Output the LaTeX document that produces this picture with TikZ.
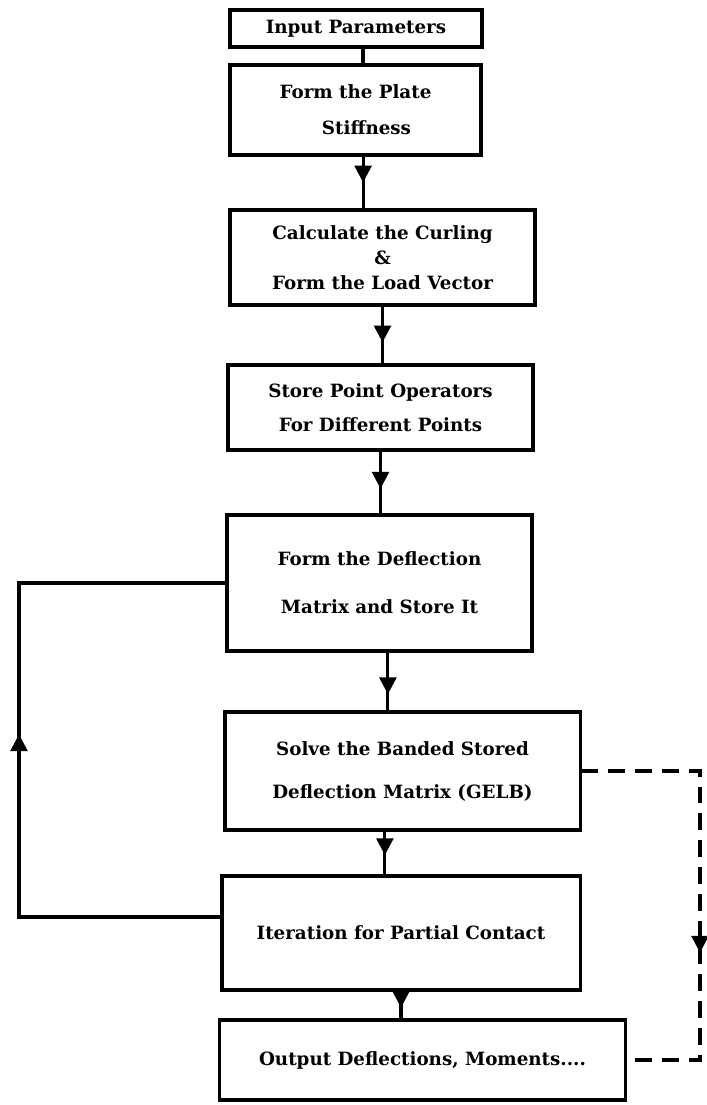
\documentclass[tikz,border=0pt]{standalone}
\usepackage{fontspec}
\setmainfont{DejaVu Serif}
\usetikzlibrary{arrows.meta,decorations.markings}

\tikzset{
  box/.style={draw, line width=2.2pt, inner sep=0pt, align=center,
    font=\bfseries\fontsize{13}{16}\selectfont},
  flowline/.style={line width=2.2pt},
  midarrow/.style={flowline, postaction={decorate},
    decoration={markings, mark=at position #1 with {\arrow{Triangle[width=0.42cm,length=0.42cm]}}}},
}

\begin{document}
\begin{tikzpicture}[x=0.025cm, y=-0.025cm]
		\useasboundingbox (0,0) rectangle (706,1105);
		
		%%%%% BOXES %%%%%
		\node[box, minimum width=6.3cm, minimum height=0.925cm] (in) at (356,28.5) {Input Parameters};
		\node[box, minimum width=6.275cm, minimum height=2.25cm] (plate) at (355.5,110) {Form the Plate\\[9.6pt]\hspace*{1.2em}Stiffness};
		\node[box, minimum width=7.625cm, minimum height=2.375cm] (curl) at (382.5,257.5) {Calculate the Curling\\[1.8pt]\&\\[1.8pt]Form the Load Vector};
		\node[box, minimum width=7.625cm, minimum height=2.125cm] (store) at (380.5,407.5) {Store Point Operators\\[8pt]For Different Points};
		\node[box, minimum width=7.625cm, minimum height=3.4cm] (defl) at (379.5,583) {Form the Deflection\\[18pt]Matrix and Store It};
		\node[box, minimum width=8.875cm, minimum height=2.95cm] (solve) at (402.5,771) {Solve the Banded Stored\\[14.6pt]Deflection Matrix (GELB)};
		\node[box, minimum width=8.95cm, minimum height=2.85cm] (iter) at (401,933) {Iteration for Partial Contact};
		\node[box, minimum width=10.125cm, minimum height=2cm] (out) at (422.5,1060) {Output Deflections, Moments....};
		
		\coordinate (inS) at ([xshift=0.175cm]in.south);
		\coordinate (plateS) at ([xshift=0.19cm]plate.south);
		\coordinate (deflS) at ([xshift=0.21cm]defl.south);
		\coordinate (solveS) at ([xshift=-0.44cm]solve.south);
		\coordinate (loopL) at (19,0);
		\coordinate (loopR) at (700,0);
		
		%%%%% FLOW %%%%%
		\draw[flowline] (inS) -- (inS |- plate.north);
		\draw[midarrow=0.5] (plateS) -- (plateS |- curl.north);
		\draw[midarrow=0.63] (curl.south) -- (curl.south |- store.north);
		\draw[midarrow=0.6] (store.south) -- (store.south |- defl.north);
		\draw[midarrow=0.72] (deflS) -- (deflS |- solve.north);
		\draw[midarrow=0.55] (solveS) -- (solveS |- iter.north);
		\draw[midarrow=0.6] (iter.south) -- (iter.south |- out.north);
		
		% iteration loop
		\draw[midarrow=9.6cm] ([yshift=0.4cm]iter.west) -| (loopL |- defl.west) -- (defl.west);
		
		% direct path
		\draw[midarrow=7.5cm, dash pattern=on 0.42cm off 0.25cm] (solve.east) -| (loopR |- out.east) -- (out.east);
		
\end{tikzpicture}
\end{document}
